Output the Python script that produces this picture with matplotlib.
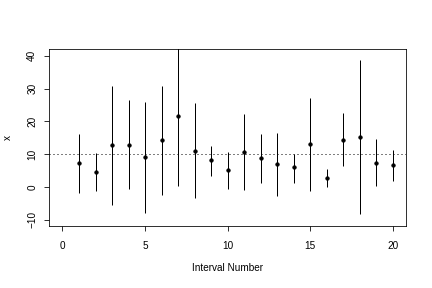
import matplotlib
matplotlib.use("Agg")
import matplotlib.pyplot as plt
import numpy as np

# Interval estimates
interval = np.arange(1, 21)
mean = [7.4, 4.6, 12.8, 12.8, 9.2, 14.3, 21.6, 11.0, 8.3, 5.2,
        10.7, 8.9, 7.1, 5.9, 13.1, 2.8, 14.3, 15.2, 7.4, 6.8]
lower = [-2.0, -1.4, -5.7, -0.8, -8.1, -2.6, 0.1, -3.5, 3.4, -0.8,
         -1.1, 1.3, -2.8, 1.3, -1.4, -0.2, 6.2, -8.4, 0.1, 1.9]
upper = [16.0, 10.2, 30.9, 26.4, 25.8, 30.9, 43.1, 25.5, 12.6, 10.5,
         22.1, 16.1, 16.4, 10.0, 27.0, 5.4, 22.4, 38.8, 14.5, 11.3]
true_value = 10

plt.rcParams['font.family'] = ['Liberation Sans', 'DejaVu Sans']
plt.rcParams['font.size'] = 10

fig = plt.figure(figsize=(6, 4), dpi=72)
ax = fig.add_axes([0.114, 0.215, 0.826, 0.614])

ax.vlines(interval, lower, upper, color='black', linewidth=1)
ax.plot(interval, mean, 'o', color='black', markersize=3.3)
ax.axhline(true_value, color='black', linestyle=(0, (1, 3)), linewidth=1)

ax.set_xlim(-0.8, 20.8)
ax.set_ylim(-12, 42)
ax.set_xticks([0, 5, 10, 15, 20])
ax.set_yticks([-10, 0, 10, 20, 30, 40])
for lab in ax.get_yticklabels():
    lab.set_rotation(90)
    lab.set_va('center')
ax.tick_params(direction='out', length=5, width=0.8)
ax.tick_params(axis='x', pad=10)
ax.tick_params(axis='y', pad=7)
for s in ax.spines.values():
    s.set_linewidth(0.8)

ax.set_xlabel('Interval Number', labelpad=12)
ax.set_ylabel('x', labelpad=14)

fig.savefig('out.png', dpi=72)
